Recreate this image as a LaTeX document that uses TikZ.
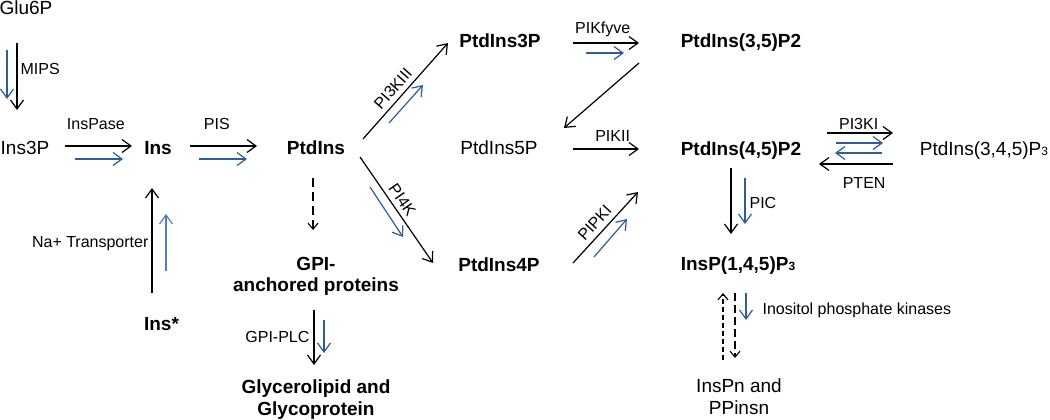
\documentclass[tikz,border=0pt]{standalone}
\usepackage{fontspec}
\setmainfont{Liberation Sans}
\usetikzlibrary{arrows.meta,positioning}

\definecolor{pathblue}{RGB}{47,94,150}
\definecolor{lightblue}{RGB}{79,129,189}

\begin{document}
\begin{tikzpicture}[x=1pt,y=-1pt,
		mol/.style={inner sep=0pt, font=\fontsize{19}{21}\selectfont, text height=14pt, text depth=0pt},
		molb/.style={mol, font=\fontsize{19}{21}\selectfont\bfseries},
		multi/.style={inner sep=0pt, align=center, font=\fontsize{19}{22}\selectfont},
		lbl/.style={inner sep=0pt, text=black, font=\fontsize{16}{18}\selectfont, text height=11.5pt, text depth=0pt},
		blk/.style={line width=1.2pt, -{Straight Barb[length=9pt,width=13pt]}},
		blu/.style={blk, pathblue},
		dsh/.style={line width=1.1pt, dash pattern=on 9pt off 5pt, -{Straight Barb[length=6pt,width=10pt]}}]
		\begin{scope}
			\useasboundingbox (0,0) rectangle (1050,420);

			\node[mol] (glu) at (26,8) {Glu6P};
			\node[mol] (ins3p) at (25,147) {Ins3P};
			\node[molb] (ins) at (158,147) {Ins};
			\node[molb] (inss) at (161.5,323) {Ins*};
			\node[molb] (ptd) at (316,147) {PtdIns};
			\node[multi, font=\fontsize{19}{21}\selectfont\bfseries] (gpi) at (316,276) {GPI-\\anchored proteins};
			\node[multi, font=\fontsize{19}{22}\selectfont\bfseries] (glyc) at (316,400) {Glycerolipid and\\Glycoprotein};
			\node[molb] (p3) at (500,41) {PtdIns3P};
			\node[mol] (p5) at (499,147) {PtdIns5P};
			\node[molb] (p4) at (499,264) {PtdIns4P};
			\node[molb] (p35) at (741,41) {PtdIns(3,5)P2};
			\node[molb] (p45) at (741,148) {PtdIns(4,5)P2};
			\node[molb] (ip3) at (738,263) {InsP(1,4,5)P{\fontsize{12}{12}\selectfont 3}};
			\node[multi] (insn) at (739,397) {InsPn and\\PPinsn};
			\node[mol] (p345) at (984,148) {PtdIns(3,4,5)P{\fontsize{12}{12}\selectfont 3}};

			\draw[blk] ([shift={(-9,35)}]glu.center) -- ([shift={(-8,-37)}]ins3p.center) node[lbl, pos=0.38, right=3pt] {MIPS}; % Glu6P to Ins3P
			\draw[blu] ([shift={(-19,42)}]glu.center) -- ([shift={(-18,-48)}]ins3p.center);

			\draw[blk] ([shift={(40,-1)}]ins3p.center) -- ([shift={(-26,-1)}]ins.center) node[lbl, pos=0.46, above=16pt] {InsPase}; % Ins3P to Ins
			\draw[blu] ([shift={(50,12)}]ins3p.center) -- ([shift={(-35,12)}]ins.center);

			\draw[blk] ([shift={(32,-1)}]ins.center) -- ([shift={(-59,-1)}]ptd.center) node[lbl, pos=0.4, above=16pt] {PIS}; % Ins to PtdIns
			\draw[blu] ([shift={(41,12)}]ins.center) -- ([shift={(-69,12)}]ptd.center);

			\draw[blk] ([shift={(-9.5,-30)}]inss.center) -- ([shift={(-6,41)}]ins.center) node[lbl, pos=0.49, left=3pt] {Na+ Transporter}; % Ins* to Ins
			\draw[blu, lightblue] ([shift={(4.5,-52)}]inss.center) -- ([shift={(8,67)}]ins.center);

			\draw[blk] ([shift={(47,-8)}]ptd.center) -- ([shift={(-52,2)}]p3.center) node[lbl, sloped, pos=0.45, above=5pt] {PI3KIII}; % PtdIns to PtdIns3P
			\draw[blu] ([shift={(73,-24)}]ptd.center) -- ([shift={(-77,44)}]p3.center);

			\draw[blk] ([shift={(44,10)}]ptd.center) -- ([shift={(-66,-1)}]p4.center) node[lbl, sloped, pos=0.46, above=4.5pt] {PI4K}; % PtdIns to PtdIns4P
			\draw[blu] ([shift={(54,40)}]ptd.center) -- ([shift={(-96,-27)}]p4.center);

			\draw[dsh] ([shift={(-3,31)}]ptd.center) -- ([shift={(-3,-46)}]gpi.center); % PtdIns to GPI

			\draw[blk] ([shift={(-2,34)}]gpi.center) -- ([shift={(-2,-35)}]glyc.center) node[lbl, pos=0.49, left=4pt] {GPI-PLC}; % GPI to glycerolipid
			\draw[blu] ([shift={(8,44)}]gpi.center) -- ([shift={(8,-47)}]glyc.center);

			\draw[blk] ([shift={(73,2)}]p3.center) -- ([shift={(-102,2)}]p35.center) node[lbl, pos=0.45, above=9pt] {PIKfyve}; % PtdIns3P to PtdIns(3,5)P2
			\draw[blu] ([shift={(86,12)}]p3.center) -- ([shift={(-117,12)}]p35.center);

			\draw[blk] ([shift={(-102,22)}]p35.center) -- ([shift={(65,-19)}]p5.center); % PtdIns(3,5)P2 to PtdIns5P

			\draw[blk] ([shift={(74,2)}]p5.center) -- ([shift={(-102,1)}]p45.center) node[lbl, pos=0.6, above=7pt] {PIKII}; % PtdIns5P to PtdIns(4,5)P2

			\draw[blk] ([shift={(74,-1)}]p4.center) -- ([shift={(-103,44)}]p45.center) node[lbl, sloped, pos=0.46, above=5pt] {PIPKI}; % PtdIns4P to PtdIns(4,5)P2
			\draw[blu] ([shift={(95,-7)}]p4.center) -- ([shift={(-114,71)}]p45.center);

			\draw[blk] ([shift={(-10,20)}]p45.center) -- ([shift={(-7,-29)}]ip3.center); % PtdIns(4,5)P2 to InsP3
			\draw[blu] ([shift={(4,30)}]p45.center) -- ([shift={(7,-39)}]ip3.center) node[lbl, pos=0.54, right=4pt] {PIC};

			\draw[blk] ([shift={(86,-15)}]p45.center) -- ([shift={(-91,-15)}]p345.center) node[lbl, pos=0.48, above=3pt] {PI3KI}; % PtdIns(4,5)P2 to PtdIns(3,4,5)P3
			\draw[blu] ([shift={(95,-5)}]p45.center) -- ([shift={(-101,-5)}]p345.center);
			\draw[blu] ([shift={(-102,5)}]p345.center) -- ([shift={(94,5)}]p45.center); % and back
			\draw[blk] ([shift={(-91,16)}]p345.center) -- ([shift={(78,16)}]p45.center) node[lbl, pos=0.39, below=12pt] {PTEN};

			\draw[dsh, dash pattern=on 5pt off 3pt] ([shift={(-16,-37)}]insn.center) -- ([shift={(-15,30)}]ip3.center); % InsPn to InsP3
			\draw[dsh, dash pattern=on 8pt off 4pt] ([shift={(-3,30)}]ip3.center) -- ([shift={(-4,-39)}]insn.center); % InsP3 to InsPn
			\draw[blu] ([shift={(8,30)}]ip3.center) -- ([shift={(7,-77)}]insn.center) node[lbl, pos=0.59, right=16pt] {Inositol phosphate kinases};

		\end{scope}
	\end{tikzpicture}
\end{document}
